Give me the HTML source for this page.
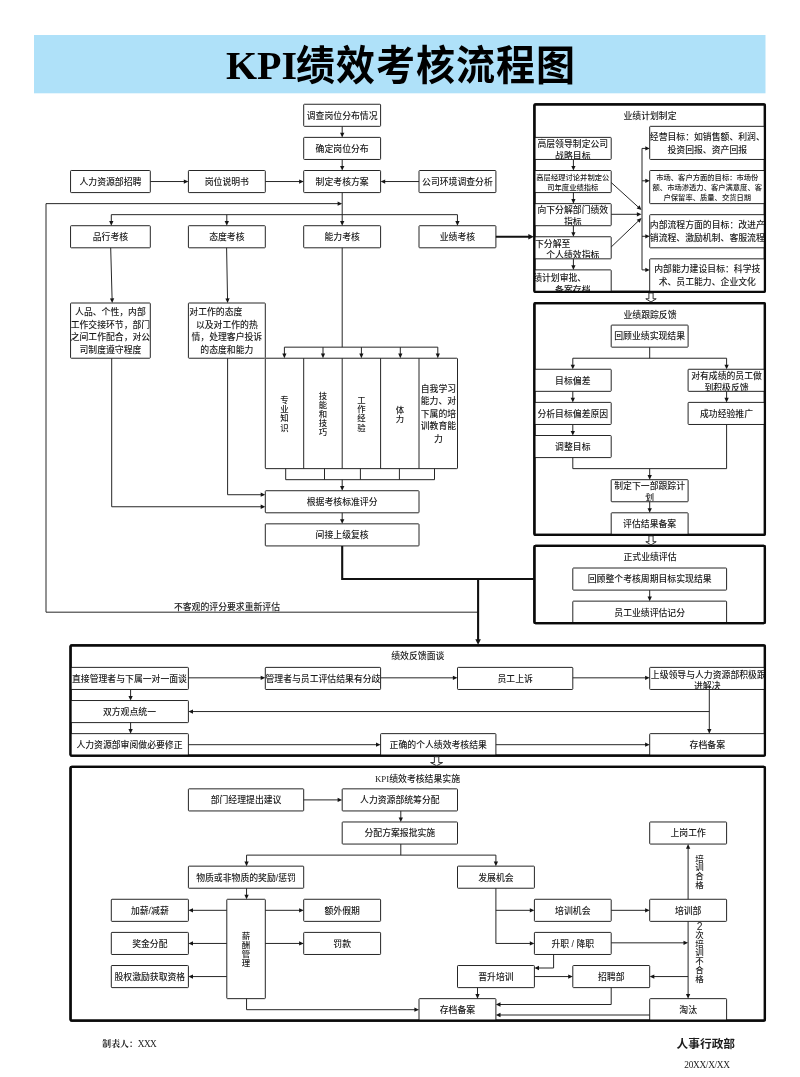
<!DOCTYPE html>
<html lang="zh-CN"><head><meta charset="utf-8"><title>KPI绩效考核流程图</title>
<style>html,body{margin:0;padding:0;background:#fff}svg{display:block;will-change:transform}</style></head>
<body>
<svg width="800" height="1077" viewBox="0 0 800 1077" font-family='"Liberation Sans","Noto Sans CJK SC",sans-serif' font-size="8.85" fill="#1c1c1c" font-weight="500">
<defs><clipPath id="c1"><rect x="71.05" y="303.51" width="78.75" height="54.21"/></clipPath><clipPath id="c2"><rect x="188.9" y="303.51" width="75.9" height="54.21"/></clipPath><clipPath id="c3"><rect x="534.9" y="137.88" width="75.8" height="21.08"/></clipPath><clipPath id="c4"><rect x="534.9" y="171" width="75.8" height="21.09"/></clipPath><clipPath id="c5"><rect x="534.9" y="204.13" width="75.8" height="21.08"/></clipPath><clipPath id="c6"><rect x="534.9" y="237.25" width="75.8" height="21.09"/></clipPath><clipPath id="c7"><rect x="534.9" y="270.38" width="75.8" height="21.08"/></clipPath><clipPath id="c8"><rect x="650.2" y="126.83" width="114.2" height="32.13"/></clipPath><clipPath id="c9"><rect x="650.2" y="171" width="114.2" height="32.13"/></clipPath><clipPath id="c10"><rect x="650.2" y="215.17" width="114.2" height="32.13"/></clipPath><clipPath id="c11"><rect x="650.2" y="259.34" width="114.2" height="32.12"/></clipPath><clipPath id="c12"><rect x="688.6" y="369.76" width="75.8" height="21.08"/></clipPath><clipPath id="c13"><rect x="611.7" y="480.18" width="75.9" height="21.08"/></clipPath><clipPath id="c14"><rect x="265.8" y="667.89" width="114.3" height="21.09"/></clipPath><clipPath id="c15"><rect x="650.2" y="667.89" width="114.2" height="21.09"/></clipPath></defs>
<rect x="34" y="35" width="731.5" height="58.3" fill="#afe1f9"/>
<text x="226" y="78.8" font-size="40" font-weight="700" fill="#000" font-family='"Liberation Serif",serif'>KPI</text>
<text transform="translate(296,80.2) scale(1,1.06)" font-size="39" font-weight="700" fill="#000" letter-spacing="1" font-family='"Liberation Sans","Noto Sans CJK SC",sans-serif'>绩效考核流程图</text>
<rect x="303.7" y="104.25" width="76.9" height="22.08" fill="#fff" stroke="#262626" stroke-width="1" rx="0.7"/>
<text x="342.15" y="118.61" font-size="8.85" text-anchor="middle">调查岗位分布情况</text>
<rect x="303.7" y="137.38" width="76.9" height="22.08" fill="#fff" stroke="#262626" stroke-width="1" rx="0.7"/>
<text x="342.15" y="151.74" font-size="8.85" text-anchor="middle">确定岗位分布</text>
<rect x="303.7" y="170.5" width="76.9" height="22.09" fill="#fff" stroke="#262626" stroke-width="1" rx="0.7"/>
<text x="342.15" y="184.86" font-size="8.85" text-anchor="middle">制定考核方案</text>
<rect x="70.55" y="170.5" width="79.75" height="22.09" fill="#fff" stroke="#262626" stroke-width="1" rx="0.7"/>
<text x="110.43" y="184.86" font-size="8.85" text-anchor="middle">人力资源部招聘</text>
<rect x="188.4" y="170.5" width="76.9" height="22.09" fill="#fff" stroke="#262626" stroke-width="1" rx="0.7"/>
<text x="226.85" y="184.86" font-size="8.85" text-anchor="middle">岗位说明书</text>
<rect x="419" y="170.5" width="76.9" height="22.09" fill="#fff" stroke="#262626" stroke-width="1" rx="0.7"/>
<text x="457.45" y="184.86" font-size="8.85" text-anchor="middle">公司环境调查分析</text>
<rect x="70.55" y="225.71" width="79.75" height="22.09" fill="#fff" stroke="#262626" stroke-width="1" rx="0.7"/>
<text x="110.43" y="240.07" font-size="8.85" text-anchor="middle">品行考核</text>
<rect x="188.4" y="225.71" width="76.9" height="22.09" fill="#fff" stroke="#262626" stroke-width="1" rx="0.7"/>
<text x="226.85" y="240.07" font-size="8.85" text-anchor="middle">态度考核</text>
<rect x="303.7" y="225.71" width="76.9" height="22.09" fill="#fff" stroke="#262626" stroke-width="1" rx="0.7"/>
<text x="342.15" y="240.07" font-size="8.85" text-anchor="middle">能力考核</text>
<rect x="419" y="225.71" width="76.9" height="22.09" fill="#fff" stroke="#262626" stroke-width="1" rx="0.7"/>
<text x="457.45" y="240.07" font-size="8.85" text-anchor="middle">业绩考核</text>
<path d="M342.2 126.33 L342.2 134.62" fill="none" stroke="#262626" stroke-width="1"/>
<polygon points="342.2,137.38 340.05,132.78 344.35,132.78" fill="#151515"/>
<path d="M342.2 159.46 L342.2 167.74" fill="none" stroke="#262626" stroke-width="1"/>
<polygon points="342.2,170.5 340.05,165.9 344.35,165.9" fill="#151515"/>
<path d="M150.3 181.54 L185.64 181.54" fill="none" stroke="#262626" stroke-width="1"/>
<polygon points="188.4,181.54 183.8,183.69 183.8,179.39" fill="#151515"/>
<path d="M265.3 181.54 L300.94 181.54" fill="none" stroke="#262626" stroke-width="1"/>
<polygon points="303.7,181.54 299.1,183.69 299.1,179.39" fill="#151515"/>
<path d="M419 181.54 L383.36 181.54" fill="none" stroke="#262626" stroke-width="1"/>
<polygon points="380.6,181.54 385.2,179.39 385.2,183.69" fill="#151515"/>
<path d="M342.2 192.59 L342.2 222.95" fill="none" stroke="#262626" stroke-width="1"/>
<polygon points="342.2,225.71 340.05,221.11 344.35,221.11" fill="#151515"/>
<path d="M478.1 612.18 L46 612.18 L46 203.63 L339.44 203.63" fill="none" stroke="#262626" stroke-width="1"/>
<polygon points="342.2,203.63 337.6,205.78 337.6,201.48" fill="#151515"/>
<path d="M111.3 214.67 L457.45 214.67" fill="none" stroke="#262626" stroke-width="1"/>
<path d="M111.3 214.67 L111.3 222.95" fill="none" stroke="#262626" stroke-width="1"/>
<polygon points="111.3,225.71 109.15,221.11 113.45,221.11" fill="#151515"/>
<path d="M226.8 214.67 L226.8 222.95" fill="none" stroke="#262626" stroke-width="1"/>
<polygon points="226.8,225.71 224.65,221.11 228.95,221.11" fill="#151515"/>
<path d="M457.45 214.67 L457.45 222.95" fill="none" stroke="#262626" stroke-width="1"/>
<polygon points="457.45,225.71 455.3,221.11 459.6,221.11" fill="#151515"/>
<text x="227" y="609.62" font-size="8.85" text-anchor="middle">不客观的评分要求重新评估</text>
<rect x="70.55" y="303.01" width="79.75" height="55.21" fill="#fff" stroke="#262626" stroke-width="1" rx="0.7"/>
<g clip-path="url(#c1)">
<text x="110.43" y="314.73" font-size="8.85" text-anchor="middle">人品、个性，内部</text>
<text x="110.43" y="327.53" font-size="8.85" text-anchor="middle">工作交接环节，部门</text>
<text x="110.43" y="340.33" font-size="8.85" text-anchor="middle">之间工作配合，对公</text>
<text x="110.43" y="353.13" font-size="8.85" text-anchor="middle">司制度遵守程度</text>
</g>
<rect x="188.4" y="303.01" width="76.9" height="55.21" fill="#fff" stroke="#262626" stroke-width="1" rx="0.7"/>
<g clip-path="url(#c2)">
<text x="189.3" y="314.73" font-size="8.85">对工作的态度</text>
<text x="226.85" y="327.53" font-size="8.85" text-anchor="middle">以及对工作的热</text>
<text x="226.85" y="340.33" font-size="8.85" text-anchor="middle">情，处理客户投诉</text>
<text x="226.85" y="353.13" font-size="8.85" text-anchor="middle">的态度和能力</text>
</g>
<path d="M110.7 247.8 L112.13 300.25" fill="none" stroke="#262626" stroke-width="1"/>
<polygon points="112.2,303.01 109.93,298.47 114.22,298.35" fill="#151515"/>
<path d="M226.6 247.8 L227.55 300.25" fill="none" stroke="#262626" stroke-width="1"/>
<polygon points="227.6,303.01 225.37,298.45 229.67,298.37" fill="#151515"/>
<path d="M111.7 358.22 L111.7 506.76 L262.54 506.76" fill="none" stroke="#262626" stroke-width="1"/>
<polygon points="265.3,506.76 260.7,508.91 260.7,504.61" fill="#151515"/>
<path d="M227.6 358.22 L227.6 494.72 L262.54 494.72" fill="none" stroke="#262626" stroke-width="1"/>
<polygon points="265.3,494.72 260.7,496.87 260.7,492.57" fill="#151515"/>
<rect x="265.3" y="358.22" width="192.2" height="110.42" fill="#fff" stroke="#262626" stroke-width="1" rx="0.7"/>
<path d="M303.7 358.22 L303.7 468.64" fill="none" stroke="#262626" stroke-width="1"/>
<path d="M342.2 358.22 L342.2 468.64" fill="none" stroke="#262626" stroke-width="1"/>
<path d="M380.6 358.22 L380.6 468.64" fill="none" stroke="#262626" stroke-width="1"/>
<path d="M419 358.22 L419 468.64" fill="none" stroke="#262626" stroke-width="1"/>
<path d="M342.2 247.8 L342.2 347.17" fill="none" stroke="#262626" stroke-width="1"/>
<path d="M284.4 347.17 L437.8 347.17" fill="none" stroke="#262626" stroke-width="1"/>
<path d="M284.4 347.17 L284.4 355.46" fill="none" stroke="#262626" stroke-width="1"/>
<polygon points="284.4,358.22 282.3,353.62 286.5,353.62" fill="#151515"/>
<path d="M323 347.17 L323 355.46" fill="none" stroke="#262626" stroke-width="1"/>
<polygon points="323,358.22 320.9,353.62 325.1,353.62" fill="#151515"/>
<path d="M361.4 347.17 L361.4 355.46" fill="none" stroke="#262626" stroke-width="1"/>
<polygon points="361.4,358.22 359.3,353.62 363.5,353.62" fill="#151515"/>
<path d="M400.3 347.17 L400.3 355.46" fill="none" stroke="#262626" stroke-width="1"/>
<polygon points="400.3,358.22 398.2,353.62 402.4,353.62" fill="#151515"/>
<path d="M437.8 347.17 L437.8 355.46" fill="none" stroke="#262626" stroke-width="1"/>
<polygon points="437.8,358.22 435.7,353.62 439.9,353.62" fill="#151515"/>
<text text-anchor="middle" font-size="8.4"><tspan x="284.4" y="403.15">专</tspan><tspan x="284.4" dy="9.15">业</tspan><tspan x="284.4" dy="9.15">知</tspan><tspan x="284.4" dy="9.15">识</tspan></text>
<text text-anchor="middle" font-size="8.4"><tspan x="322.9" y="398.58">技</tspan><tspan x="322.9" dy="9.15">能</tspan><tspan x="322.9" dy="9.15">和</tspan><tspan x="322.9" dy="9.15">技</tspan><tspan x="322.9" dy="9.15">巧</tspan></text>
<text text-anchor="middle" font-size="8.4"><tspan x="361.4" y="403.15">工</tspan><tspan x="361.4" dy="9.15">作</tspan><tspan x="361.4" dy="9.15">经</tspan><tspan x="361.4" dy="9.15">验</tspan></text>
<text text-anchor="middle" font-size="8.4"><tspan x="399.9" y="412.61">体</tspan><tspan x="399.9" dy="9.15">力</tspan></text>
<text x="438.4" y="392.02" font-size="8.85" text-anchor="middle">自我学习</text>
<text x="438.4" y="404.47" font-size="8.85" text-anchor="middle">能力、对</text>
<text x="438.4" y="416.92" font-size="8.85" text-anchor="middle">下属的培</text>
<text x="438.4" y="429.37" font-size="8.85" text-anchor="middle">训教育能</text>
<text x="438.4" y="441.82" font-size="8.85" text-anchor="middle">力</text>
<path d="M285.7 468.64 L285.7 479.68" fill="none" stroke="#262626" stroke-width="1"/>
<path d="M324.5 468.64 L324.5 479.68" fill="none" stroke="#262626" stroke-width="1"/>
<path d="M360.4 468.64 L360.4 479.68" fill="none" stroke="#262626" stroke-width="1"/>
<path d="M399.4 468.64 L399.4 479.68" fill="none" stroke="#262626" stroke-width="1"/>
<path d="M434.5 468.64 L434.5 479.68" fill="none" stroke="#262626" stroke-width="1"/>
<path d="M285.7 479.68 L434.5 479.68" fill="none" stroke="#262626" stroke-width="1"/>
<path d="M342.2 479.68 L342.2 487.96" fill="none" stroke="#262626" stroke-width="1"/>
<polygon points="342.2,490.72 340.05,486.12 344.35,486.12" fill="#151515"/>
<rect x="265.3" y="490.72" width="153.7" height="22.08" fill="#fff" stroke="#262626" stroke-width="1" rx="0.7"/>
<text x="342.15" y="505.08" font-size="8.85" text-anchor="middle">根据考核标准评分</text>
<rect x="265.3" y="523.85" width="153.7" height="22.08" fill="#fff" stroke="#262626" stroke-width="1" rx="0.7"/>
<text x="342.15" y="538.21" font-size="8.85" text-anchor="middle">间接上级复核</text>
<path d="M342.2 512.8 L342.2 521.09" fill="none" stroke="#262626" stroke-width="1"/>
<polygon points="342.2,523.85 340.05,519.25 344.35,519.25" fill="#151515"/>
<path d="M342.2 545.93 L342.2 579.06 L534.4 579.06" fill="none" stroke="#111" stroke-width="2.1"/>
<path d="M478.1 579.06 L478.1 641.41" fill="none" stroke="#111" stroke-width="2.1"/>
<polygon points="478.1,644.71 475.3,639.21 480.9,639.21" fill="#151515"/>
<path d="M495.9 236.75 L530.5 236.75" fill="none" stroke="#111" stroke-width="2.1"/>
<polygon points="533.8,236.75 528.3,239.55 528.3,233.95" fill="#151515"/>
<rect x="534.4" y="104.25" width="230.5" height="187.71" fill="#fff" stroke="#0a0a0a" stroke-width="2.25" rx="1.2"/>
<text x="650" y="118.92" font-size="8.85" text-anchor="middle">业绩计划制定</text>
<rect x="534.4" y="137.38" width="76.8" height="22.08" fill="#fff" stroke="#262626" stroke-width="1" rx="0.7"/>
<g clip-path="url(#c3)">
<text x="572.8" y="146.89" font-size="8.85" text-anchor="middle">高层领导制定公司</text>
<text x="572.8" y="159.19" font-size="8.85" text-anchor="middle">战略目标</text>
</g>
<rect x="534.4" y="170.5" width="76.8" height="22.09" fill="#fff" stroke="#262626" stroke-width="1" rx="0.7"/>
<g clip-path="url(#c4)">
<text x="572.8" y="179.88" font-size="7.3" text-anchor="middle">高层经理讨论并制定公</text>
<text x="572.8" y="189.88" font-size="7.3" text-anchor="middle">司年度业绩指标</text>
</g>
<rect x="534.4" y="203.63" width="76.8" height="22.08" fill="#fff" stroke="#262626" stroke-width="1" rx="0.7"/>
<g clip-path="url(#c5)">
<text x="572.8" y="213.14" font-size="8.85" text-anchor="middle">向下分解部门绩效</text>
<text x="572.8" y="225.44" font-size="8.85" text-anchor="middle">指标</text>
</g>
<rect x="534.4" y="236.75" width="76.8" height="22.09" fill="#fff" stroke="#262626" stroke-width="1" rx="0.7"/>
<g clip-path="url(#c6)">
<text x="526.2" y="246.81" font-size="8.85">向下分解至</text>
<text x="572.8" y="258.41" font-size="8.85" text-anchor="middle">个人绩效指标</text>
</g>
<rect x="534.4" y="269.88" width="76.8" height="22.08" fill="#fff" stroke="#262626" stroke-width="1" rx="0.7"/>
<g clip-path="url(#c7)">
<text x="524.3" y="281.04" font-size="8.85">业绩计划审批、</text>
<text x="572.8" y="292.64" font-size="8.85" text-anchor="middle">备案存档</text>
</g>
<path d="M573.4 159.46 L573.4 167.74" fill="none" stroke="#262626" stroke-width="1"/>
<polygon points="573.4,170.5 571.3,165.9 575.5,165.9" fill="#151515"/>
<path d="M573.4 192.59 L573.4 200.87" fill="none" stroke="#262626" stroke-width="1"/>
<polygon points="573.4,203.63 571.3,199.03 575.5,199.03" fill="#151515"/>
<path d="M573.4 225.71 L573.4 233.99" fill="none" stroke="#262626" stroke-width="1"/>
<polygon points="573.4,236.75 571.3,232.15 575.5,232.15" fill="#151515"/>
<path d="M573.4 258.84 L573.4 267.12" fill="none" stroke="#262626" stroke-width="1"/>
<polygon points="573.4,269.88 571.3,265.28 575.5,265.28" fill="#151515"/>
<rect x="649.7" y="126.33" width="115.2" height="33.13" fill="#fff" stroke="#262626" stroke-width="1" rx="0.7"/>
<g clip-path="url(#c8)">
<text x="707.3" y="139.71" font-size="8.85" text-anchor="middle">经营目标：如销售额、利润、</text>
<text x="707.3" y="152.71" font-size="8.85" text-anchor="middle">投资回报、资产回报</text>
</g>
<rect x="649.7" y="170.5" width="115.2" height="33.13" fill="#fff" stroke="#262626" stroke-width="1" rx="0.7"/>
<g clip-path="url(#c9)">
<text x="707.3" y="179.5" font-size="7.3" text-anchor="middle">市场、客户方面的目标：市场份</text>
<text x="707.3" y="189.8" font-size="7.3" text-anchor="middle">额、市场渗透力、客户满意度、客</text>
<text x="707.3" y="200.1" font-size="7.3" text-anchor="middle">户保留率、质量、交货日期</text>
</g>
<rect x="649.7" y="214.67" width="115.2" height="33.13" fill="#fff" stroke="#262626" stroke-width="1" rx="0.7"/>
<g clip-path="url(#c10)">
<text x="707.3" y="228.05" font-size="8.85" text-anchor="middle">内部流程方面的目标：改进产</text>
<text x="707.3" y="241.05" font-size="8.85" text-anchor="middle">销流程、激励机制、客服流程</text>
</g>
<rect x="649.7" y="258.84" width="115.2" height="33.12" fill="#fff" stroke="#262626" stroke-width="1" rx="0.7"/>
<g clip-path="url(#c11)">
<text x="707.3" y="272.22" font-size="8.85" text-anchor="middle">内部能力建设目标：科学技</text>
<text x="707.3" y="285.22" font-size="8.85" text-anchor="middle">术、员工能力、企业文化</text>
</g>
<path d="M642 148.42 L642 269.88" fill="none" stroke="#262626" stroke-width="1"/>
<path d="M642 148.42 L647.06 148.42" fill="none" stroke="#262626" stroke-width="1"/>
<polygon points="649.7,148.42 645.3,150.52 645.3,146.32" fill="#151515"/>
<path d="M642 180.8 L647.06 180.8" fill="none" stroke="#262626" stroke-width="1"/>
<polygon points="649.7,180.8 645.3,182.9 645.3,178.7" fill="#151515"/>
<path d="M642 236.3 L647.06 236.3" fill="none" stroke="#262626" stroke-width="1"/>
<polygon points="649.7,236.3 645.3,238.4 645.3,234.2" fill="#151515"/>
<path d="M642 269.88 L647.06 269.88" fill="none" stroke="#262626" stroke-width="1"/>
<polygon points="649.7,269.88 645.3,271.98 645.3,267.78" fill="#151515"/>
<path d="M611.2 182.5 L639.46 208.15" fill="none" stroke="#262626" stroke-width="1"/>
<polygon points="641.5,210 636.65,208.5 639.54,205.32" fill="#151515"/>
<path d="M611.2 214.3 L638.74 214.3" fill="none" stroke="#262626" stroke-width="1"/>
<polygon points="641.5,214.3 636.9,216.45 636.9,212.15" fill="#151515"/>
<path d="M611.2 247 L639.51 219.91" fill="none" stroke="#262626" stroke-width="1"/>
<polygon points="641.5,218 639.66,222.73 636.69,219.63" fill="#151515"/>
<rect x="534.4" y="104.25" width="230.5" height="187.71" fill="none" stroke="#0a0a0a" stroke-width="2.25" rx="1.2"/>
<rect x="534.4" y="303.01" width="230.5" height="231.88" fill="#fff" stroke="#0a0a0a" stroke-width="2.25" rx="1.2"/>
<text x="650" y="317.52" font-size="8.85" text-anchor="middle">业绩跟踪反馈</text>
<rect x="611.2" y="325.09" width="76.9" height="22.08" fill="#fff" stroke="#262626" stroke-width="1" rx="0.7"/>
<text x="649.65" y="339.45" font-size="8.85" text-anchor="middle">回顾业绩实现结果</text>
<path d="M649.7 347.17 L649.7 358.22" fill="none" stroke="#262626" stroke-width="1"/>
<path d="M572.8 358.22 L726.6 358.22" fill="none" stroke="#262626" stroke-width="1"/>
<path d="M572.8 358.22 L572.8 366.5" fill="none" stroke="#262626" stroke-width="1"/>
<polygon points="572.8,369.26 570.65,364.66 574.95,364.66" fill="#151515"/>
<path d="M726.6 358.22 L726.6 366.5" fill="none" stroke="#262626" stroke-width="1"/>
<polygon points="726.6,369.26 724.45,364.66 728.75,364.66" fill="#151515"/>
<rect x="534.4" y="369.26" width="76.8" height="22.08" fill="#fff" stroke="#262626" stroke-width="1" rx="0.7"/>
<text x="572.8" y="383.62" font-size="8.85" text-anchor="middle">目标偏差</text>
<rect x="688.1" y="369.26" width="76.8" height="22.08" fill="#fff" stroke="#262626" stroke-width="1" rx="0.7"/>
<g clip-path="url(#c12)">
<text x="726.5" y="378.77" font-size="8.85" text-anchor="middle">对有成绩的员工做</text>
<text x="726.5" y="391.07" font-size="8.85" text-anchor="middle">到积极反馈</text>
</g>
<rect x="534.4" y="402.38" width="76.8" height="22.09" fill="#fff" stroke="#262626" stroke-width="1" rx="0.7"/>
<text x="572.8" y="416.74" font-size="8.85" text-anchor="middle">分析目标偏差原因</text>
<rect x="688.1" y="402.38" width="76.8" height="22.09" fill="#fff" stroke="#262626" stroke-width="1" rx="0.7"/>
<text x="726.5" y="416.74" font-size="8.85" text-anchor="middle">成功经验推广</text>
<rect x="534.4" y="435.51" width="76.8" height="22.08" fill="#fff" stroke="#262626" stroke-width="1" rx="0.7"/>
<text x="572.8" y="449.87" font-size="8.85" text-anchor="middle">调整目标</text>
<path d="M572.8 391.34 L572.8 399.62" fill="none" stroke="#262626" stroke-width="1"/>
<polygon points="572.8,402.38 570.65,397.78 574.95,397.78" fill="#151515"/>
<path d="M572.8 424.47 L572.8 432.75" fill="none" stroke="#262626" stroke-width="1"/>
<polygon points="572.8,435.51 570.65,430.91 574.95,430.91" fill="#151515"/>
<path d="M726.6 391.34 L726.6 399.62" fill="none" stroke="#262626" stroke-width="1"/>
<polygon points="726.6,402.38 724.45,397.78 728.75,397.78" fill="#151515"/>
<path d="M572.8 457.59 L572.8 468.64 L726.6 468.64 L726.6 424.47" fill="none" stroke="#262626" stroke-width="1"/>
<path d="M649.7 468.64 L649.7 476.92" fill="none" stroke="#262626" stroke-width="1"/>
<polygon points="649.7,479.68 647.55,475.08 651.85,475.08" fill="#151515"/>
<rect x="611.2" y="479.68" width="76.9" height="22.08" fill="#fff" stroke="#262626" stroke-width="1" rx="0.7"/>
<g clip-path="url(#c13)">
<text x="649.65" y="489.19" font-size="8.85" text-anchor="middle">制定下一部跟踪计</text>
<text x="649.65" y="501.49" font-size="8.85" text-anchor="middle">划</text>
</g>
<rect x="611.2" y="512.8" width="76.9" height="22.09" fill="#fff" stroke="#262626" stroke-width="1" rx="0.7"/>
<text x="649.65" y="527.16" font-size="8.85" text-anchor="middle">评估结果备案</text>
<path d="M649.7 501.76 L649.7 510.04" fill="none" stroke="#262626" stroke-width="1"/>
<polygon points="649.7,512.8 647.55,508.2 651.85,508.2" fill="#151515"/>
<rect x="534.4" y="303.01" width="230.5" height="231.88" fill="none" stroke="#0a0a0a" stroke-width="2.25" rx="1.2"/>
<rect x="534.4" y="545.93" width="230.5" height="77.29" fill="#fff" stroke="#0a0a0a" stroke-width="2.25" rx="1.2"/>
<text x="650" y="560.32" font-size="8.85" text-anchor="middle">正式业绩评估</text>
<rect x="572.8" y="568.01" width="153.8" height="22.09" fill="#fff" stroke="#262626" stroke-width="1" rx="0.7"/>
<text x="649.7" y="582.37" font-size="8.85" text-anchor="middle">回顾整个考核周期目标实现结果</text>
<rect x="572.8" y="601.14" width="153.8" height="22.08" fill="#fff" stroke="#262626" stroke-width="1" rx="0.7"/>
<text x="649.7" y="615.5" font-size="8.85" text-anchor="middle">员工业绩评估记分</text>
<path d="M649.7 590.1 L649.7 598.38" fill="none" stroke="#262626" stroke-width="1"/>
<polygon points="649.7,601.14 647.55,596.54 651.85,596.54" fill="#151515"/>
<rect x="534.4" y="545.93" width="230.5" height="77.29" fill="none" stroke="#0a0a0a" stroke-width="2.25" rx="1.2"/>
<polygon points="648.9,292.96 648.9,298.81 645.8,298.81 651,302.01 656.2,298.81 653.1,298.81 653.1,292.96" fill="#fff" stroke="#1c1c1c" stroke-width="0.9"/>
<polygon points="648.9,535.89 648.9,541.73 645.8,541.73 651,544.93 656.2,541.73 653.1,541.73 653.1,535.89" fill="#fff" stroke="#1c1c1c" stroke-width="0.9"/>
<rect x="70.55" y="645.31" width="694.35" height="110.42" fill="#fff" stroke="#0a0a0a" stroke-width="2.25" rx="1.2"/>
<text x="417.8" y="659.32" font-size="8.85" text-anchor="middle">绩效反馈面谈</text>
<rect x="70.55" y="667.39" width="117.85" height="22.09" fill="#fff" stroke="#262626" stroke-width="1" rx="0.7"/>
<text x="129.47" y="681.75" font-size="8.85" text-anchor="middle">直接管理者与下属一对一面谈</text>
<rect x="265.3" y="667.39" width="115.3" height="22.09" fill="#fff" stroke="#262626" stroke-width="1" rx="0.7"/>
<g clip-path="url(#c14)">
<text x="322.95" y="681.75" font-size="8.85" text-anchor="middle">管理者与员工评估结果有分歧</text>
</g>
<rect x="457.5" y="667.39" width="115.3" height="22.09" fill="#fff" stroke="#262626" stroke-width="1" rx="0.7"/>
<text x="515.15" y="681.75" font-size="8.85" text-anchor="middle">员工上诉</text>
<rect x="649.7" y="667.39" width="115.2" height="22.09" fill="#fff" stroke="#262626" stroke-width="1" rx="0.7"/>
<g clip-path="url(#c15)">
<text x="650.8" y="677.85" font-size="8.85">上级领导与人力资源部积极跟</text>
<text x="707.3" y="688.85" font-size="8.85" text-anchor="middle">进解决</text>
</g>
<rect x="70.55" y="700.52" width="117.85" height="22.08" fill="#fff" stroke="#262626" stroke-width="1" rx="0.7"/>
<text x="129.47" y="714.88" font-size="8.85" text-anchor="middle">双方观点统一</text>
<rect x="70.55" y="733.64" width="117.85" height="22.09" fill="#fff" stroke="#262626" stroke-width="1" rx="0.7"/>
<text x="129.47" y="748" font-size="8.85" text-anchor="middle">人力资源部审阅做必要修正</text>
<rect x="380.6" y="733.64" width="115.3" height="22.09" fill="#fff" stroke="#262626" stroke-width="1" rx="0.7"/>
<text x="438.25" y="748" font-size="8.85" text-anchor="middle">正确的个人绩效考核结果</text>
<rect x="649.7" y="733.64" width="115.2" height="22.09" fill="#fff" stroke="#262626" stroke-width="1" rx="0.7"/>
<text x="707.3" y="748" font-size="8.85" text-anchor="middle">存档备案</text>
<path d="M188.4 677.83 L262.54 677.83" fill="none" stroke="#262626" stroke-width="1"/>
<polygon points="265.3,677.83 260.7,679.98 260.7,675.68" fill="#151515"/>
<path d="M380.6 677.83 L454.74 677.83" fill="none" stroke="#262626" stroke-width="1"/>
<polygon points="457.5,677.83 452.9,679.98 452.9,675.68" fill="#151515"/>
<path d="M572.8 677.83 L646.94 677.83" fill="none" stroke="#262626" stroke-width="1"/>
<polygon points="649.7,677.83 645.1,679.98 645.1,675.68" fill="#151515"/>
<path d="M130.6 689.48 L130.6 697.76" fill="none" stroke="#262626" stroke-width="1"/>
<polygon points="130.6,700.52 128.45,695.92 132.75,695.92" fill="#151515"/>
<path d="M130.6 722.6 L130.6 730.88" fill="none" stroke="#262626" stroke-width="1"/>
<polygon points="130.6,733.64 128.45,729.04 132.75,729.04" fill="#151515"/>
<path d="M188.4 744.69 L377.84 744.69" fill="none" stroke="#262626" stroke-width="1"/>
<polygon points="380.6,744.69 376,746.84 376,742.54" fill="#151515"/>
<path d="M495.9 744.69 L646.94 744.69" fill="none" stroke="#262626" stroke-width="1"/>
<polygon points="649.7,744.69 645.1,746.84 645.1,742.54" fill="#151515"/>
<path d="M709.3 689.48 L709.3 730.88" fill="none" stroke="#262626" stroke-width="1"/>
<polygon points="709.3,733.64 707.15,729.04 711.45,729.04" fill="#151515"/>
<path d="M709.3 711.56 L191.16 711.56" fill="none" stroke="#262626" stroke-width="1"/>
<polygon points="188.4,711.56 193,709.41 193,713.71" fill="#151515"/>
<rect x="70.55" y="645.31" width="694.35" height="110.42" fill="none" stroke="#0a0a0a" stroke-width="2.25" rx="1.2"/>
<rect x="70.55" y="766.77" width="694.35" height="253.97" fill="#fff" stroke="#0a0a0a" stroke-width="2.25" rx="1.2"/>
<text x="417.5" y="781.62" text-anchor="middle" font-size="8.85"><tspan font-family='"Liberation Serif",serif'>KPI</tspan>绩效考核结果实施</text>
<rect x="188.4" y="788.85" width="115.3" height="22.09" fill="#fff" stroke="#262626" stroke-width="1" rx="0.7"/>
<text x="246.05" y="803.21" font-size="8.85" text-anchor="middle">部门经理提出建议</text>
<rect x="342.2" y="788.85" width="115.3" height="22.09" fill="#fff" stroke="#262626" stroke-width="1" rx="0.7"/>
<text x="399.85" y="803.21" font-size="8.85" text-anchor="middle">人力资源部统筹分配</text>
<rect x="342.2" y="821.98" width="115.3" height="22.08" fill="#fff" stroke="#262626" stroke-width="1" rx="0.7"/>
<text x="399.85" y="836.34" font-size="8.85" text-anchor="middle">分配方案报批实施</text>
<rect x="649.7" y="821.98" width="76.9" height="22.08" fill="#fff" stroke="#262626" stroke-width="1" rx="0.7"/>
<text x="688.15" y="836.34" font-size="8.85" text-anchor="middle">上岗工作</text>
<rect x="188.4" y="866.15" width="115.3" height="22.08" fill="#fff" stroke="#262626" stroke-width="1" rx="0.7"/>
<text x="246.05" y="880.51" font-size="8.85" text-anchor="middle">物质或非物质的奖励/惩罚</text>
<rect x="457.5" y="866.15" width="76.9" height="22.08" fill="#fff" stroke="#262626" stroke-width="1" rx="0.7"/>
<text x="495.95" y="880.51" font-size="8.85" text-anchor="middle">发展机会</text>
<rect x="111.3" y="899.27" width="77.1" height="22.09" fill="#fff" stroke="#262626" stroke-width="1" rx="0.7"/>
<text x="149.85" y="913.63" font-size="8.85" text-anchor="middle">加薪/减薪</text>
<rect x="111.3" y="932.4" width="77.1" height="22.08" fill="#fff" stroke="#262626" stroke-width="1" rx="0.7"/>
<text x="149.85" y="946.76" font-size="8.85" text-anchor="middle">奖金分配</text>
<rect x="111.3" y="965.53" width="77.1" height="22.08" fill="#fff" stroke="#262626" stroke-width="1" rx="0.7"/>
<text x="149.85" y="979.89" font-size="8.85" text-anchor="middle">股权激励获取资格</text>
<rect x="226.8" y="899.27" width="38.5" height="99.38" fill="#fff" stroke="#262626" stroke-width="1" rx="0.7"/>
<text text-anchor="middle" font-size="8.4"><tspan x="246.05" y="939.06">薪</tspan><tspan x="246.05" dy="9.1">酬</tspan><tspan x="246.05" dy="9.1">管</tspan><tspan x="246.05" dy="9.1">理</tspan></text>
<rect x="303.7" y="899.27" width="76.9" height="22.09" fill="#fff" stroke="#262626" stroke-width="1" rx="0.7"/>
<text x="342.15" y="913.63" font-size="8.85" text-anchor="middle">额外假期</text>
<rect x="303.7" y="932.4" width="76.9" height="22.08" fill="#fff" stroke="#262626" stroke-width="1" rx="0.7"/>
<text x="342.15" y="946.76" font-size="8.85" text-anchor="middle">罚款</text>
<rect x="534.4" y="899.27" width="76.8" height="22.09" fill="#fff" stroke="#262626" stroke-width="1" rx="0.7"/>
<text x="572.8" y="913.63" font-size="8.85" text-anchor="middle">培训机会</text>
<rect x="534.4" y="932.4" width="76.8" height="22.08" fill="#fff" stroke="#262626" stroke-width="1" rx="0.7"/>
<text x="572.8" y="946.76" font-size="8.85" text-anchor="middle">升职 / 降职</text>
<rect x="649.7" y="899.27" width="76.9" height="22.09" fill="#fff" stroke="#262626" stroke-width="1" rx="0.7"/>
<text x="688.15" y="913.63" font-size="8.85" text-anchor="middle">培训部</text>
<rect x="457.5" y="965.53" width="76.9" height="22.08" fill="#fff" stroke="#262626" stroke-width="1" rx="0.7"/>
<text x="495.95" y="979.89" font-size="8.85" text-anchor="middle">晋升培训</text>
<rect x="572.8" y="965.53" width="76.9" height="22.08" fill="#fff" stroke="#262626" stroke-width="1" rx="0.7"/>
<text x="611.25" y="979.89" font-size="8.85" text-anchor="middle">招聘部</text>
<rect x="419" y="998.65" width="76.9" height="22.09" fill="#fff" stroke="#262626" stroke-width="1" rx="0.7"/>
<text x="457.45" y="1013.01" font-size="8.85" text-anchor="middle">存档备案</text>
<rect x="649.7" y="998.65" width="76.9" height="22.09" fill="#fff" stroke="#262626" stroke-width="1" rx="0.7"/>
<text x="688.15" y="1013.01" font-size="8.85" text-anchor="middle">淘汰</text>
<path d="M303.7 799.9 L339.44 799.9" fill="none" stroke="#262626" stroke-width="1"/>
<polygon points="342.2,799.9 337.6,802.05 337.6,797.75" fill="#151515"/>
<path d="M400.8 810.94 L400.8 819.22" fill="none" stroke="#262626" stroke-width="1"/>
<polygon points="400.8,821.98 398.65,817.38 402.95,817.38" fill="#151515"/>
<path d="M400.8 844.06 L400.8 855.11" fill="none" stroke="#262626" stroke-width="1"/>
<path d="M246.55 855.11 L495.9 855.11" fill="none" stroke="#262626" stroke-width="1"/>
<path d="M246.55 855.11 L246.55 863.39" fill="none" stroke="#262626" stroke-width="1"/>
<polygon points="246.55,866.15 244.4,861.55 248.7,861.55" fill="#151515"/>
<path d="M495.9 855.11 L495.9 863.39" fill="none" stroke="#262626" stroke-width="1"/>
<polygon points="495.9,866.15 493.75,861.55 498.05,861.55" fill="#151515"/>
<path d="M246.55 888.23 L246.55 896.51" fill="none" stroke="#262626" stroke-width="1"/>
<polygon points="246.55,899.27 244.4,894.67 248.7,894.67" fill="#151515"/>
<path d="M226.8 910.32 L191.16 910.32" fill="none" stroke="#262626" stroke-width="1"/>
<polygon points="188.4,910.32 193,908.17 193,912.47" fill="#151515"/>
<path d="M226.8 943.44 L191.16 943.44" fill="none" stroke="#262626" stroke-width="1"/>
<polygon points="188.4,943.44 193,941.29 193,945.59" fill="#151515"/>
<path d="M226.8 976.57 L191.16 976.57" fill="none" stroke="#262626" stroke-width="1"/>
<polygon points="188.4,976.57 193,974.42 193,978.72" fill="#151515"/>
<path d="M265.3 910.32 L300.94 910.32" fill="none" stroke="#262626" stroke-width="1"/>
<polygon points="303.7,910.32 299.1,912.47 299.1,908.17" fill="#151515"/>
<path d="M265.3 943.44 L300.94 943.44" fill="none" stroke="#262626" stroke-width="1"/>
<polygon points="303.7,943.44 299.1,945.59 299.1,941.29" fill="#151515"/>
<path d="M246.55 998.65 L246.55 1009.69 L416.24 1009.69" fill="none" stroke="#262626" stroke-width="1"/>
<polygon points="419,1009.69 414.4,1011.84 414.4,1007.54" fill="#151515"/>
<path d="M495.9 888.23 L495.9 943.44" fill="none" stroke="#262626" stroke-width="1"/>
<path d="M495.9 910.32 L531.64 910.32" fill="none" stroke="#262626" stroke-width="1"/>
<polygon points="534.4,910.32 529.8,912.47 529.8,908.17" fill="#151515"/>
<path d="M495.9 943.44 L531.64 943.44" fill="none" stroke="#262626" stroke-width="1"/>
<polygon points="534.4,943.44 529.8,945.59 529.8,941.29" fill="#151515"/>
<path d="M611.2 910.32 L646.94 910.32" fill="none" stroke="#262626" stroke-width="1"/>
<polygon points="649.7,910.32 645.1,912.47 645.1,908.17" fill="#151515"/>
<path d="M688.1 899.27 L688.1 846.82" fill="none" stroke="#262626" stroke-width="1"/>
<polygon points="688.1,844.06 690.25,848.66 685.95,848.66" fill="#151515"/>
<path d="M688.1 921.36 L688.1 995.89" fill="none" stroke="#262626" stroke-width="1"/>
<polygon points="688.1,998.65 685.95,994.05 690.25,994.05" fill="#151515"/>
<path d="M611.2 942.84 L685.34 942.84" fill="none" stroke="#262626" stroke-width="1"/>
<polygon points="688.1,942.84 683.5,944.99 683.5,940.69" fill="#151515"/>
<path d="M688.1 976.57 L652.46 976.57" fill="none" stroke="#262626" stroke-width="1"/>
<polygon points="649.7,976.57 654.3,974.42 654.3,978.72" fill="#151515"/>
<path d="M553.6 954.48 L553.6 968 L537.16 968" fill="none" stroke="#262626" stroke-width="1"/>
<polygon points="534.4,968 539,965.85 539,970.15" fill="#151515"/>
<path d="M534.4 976.57 L570.04 976.57" fill="none" stroke="#262626" stroke-width="1"/>
<polygon points="572.8,976.57 568.2,978.72 568.2,974.42" fill="#151515"/>
<path d="M477.5 987.61 L477.5 995.89" fill="none" stroke="#262626" stroke-width="1"/>
<polygon points="477.5,998.65 475.35,994.05 479.65,994.05" fill="#151515"/>
<path d="M611.2 987.61 L611.2 1004.5 L498.66 1004.5" fill="none" stroke="#262626" stroke-width="1"/>
<polygon points="495.9,1004.5 500.5,1002.35 500.5,1006.65" fill="#151515"/>
<path d="M649.7 1015 L498.66 1015" fill="none" stroke="#262626" stroke-width="1"/>
<polygon points="495.9,1015 500.5,1012.85 500.5,1017.15" fill="#151515"/>
<text text-anchor="middle" font-size="8.5"><tspan x="699.5" y="861.59">培</tspan><tspan x="699.5" dy="8.8">训</tspan><tspan x="699.5" dy="8.8">合</tspan><tspan x="699.5" dy="8.8">格</tspan></text>
<text text-anchor="middle" font-size="8.5"><tspan x="699.6" y="937.97">次</tspan><tspan x="699.6" dy="8.76">培</tspan><tspan x="699.6" dy="8.76">训</tspan><tspan x="699.6" dy="8.76">不</tspan><tspan x="699.6" dy="8.76">合</tspan><tspan x="699.6" dy="8.76">格</tspan></text>
<text x="699.6" y="930.2" font-size="10.4" text-anchor="middle">2</text>
<rect x="70.55" y="766.77" width="694.35" height="253.97" fill="none" stroke="#0a0a0a" stroke-width="2.25" rx="1.2"/>
<polygon points="434.4,756.73 434.4,762.57 430.6,762.57 436.6,765.77 442.6,762.57 438.8,762.57 438.8,756.73" fill="#fff" stroke="#1c1c1c" stroke-width="0.9"/>
<text x="102.3" y="1046.6" font-size="8.85" font-weight="700" font-family='"Liberation Serif","Noto Serif CJK SC",serif'>制表人：</text>
<text x="137.8" y="1046.7" font-size="9.3" font-weight="400" letter-spacing="-0.6" font-family='"Liberation Serif",serif'>XXX</text>
<text x="705.8" y="1047.69" font-size="11.7" text-anchor="middle" font-weight="700">人事行政部</text>
<text x="707" y="1068.09" font-size="9.3" text-anchor="middle" font-family='"Liberation Serif","Noto Serif CJK SC",serif' font-weight="400" letter-spacing="-0.3">20XX/X/XX</text>
</svg>
</body></html>
